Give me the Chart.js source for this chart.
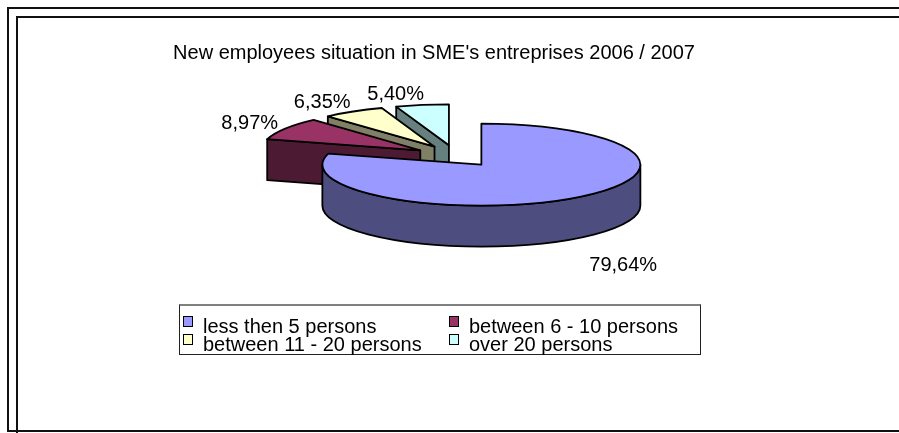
<!DOCTYPE html>
<html>
<head>
<meta charset="utf-8">
<script src="https://cdn.jsdelivr.net/npm/chart.js@4.4.1/dist/chart.umd.min.js"></script>
<style>
  body { margin: 0; background: #fff; }
  #wrap { position: relative; width: 899px; height: 433px; overflow: hidden; background: #fff;
          font-family: 'Liberation Sans', Arial, sans-serif; color: #000; }
  .frame { position: absolute; border-top: 2px solid #111; border-left: 2px solid #111; }
  #outer { left: 7px; top: 7px; width: 900px; height: 421px; border-bottom: 2px solid #111; }
  #inner { left: 16px; top: 16px; width: 900px; height: 430px; }
  #chart { position: absolute; left: 0; top: 0; }
  #title { position: absolute; left: 0; top: 40px; width: 868px; text-align: center;
           font-size: 20px; line-height: 24px; white-space: nowrap; }
  #legend { position: absolute; left: 179px; top: 304px; width: 522px; height: 51px;
            border: 1px solid #222; border-top: 2px solid #808080; box-sizing: border-box;
            padding: 11px 0 0 3px;
            display: grid; grid-template-columns: 266px auto; grid-auto-rows: 18px;
            font-size: 20px; line-height: 18px; }
  #legend .item { position: relative; padding-left: 20px; white-space: nowrap; }
  #legend .box { position: absolute; left: 0; top: -1px; width: 8px; height: 9px; border: 1px solid #000; }
</style>
</head>
<body>
<div id="wrap">
  <div class="frame" id="outer"></div>
  <div class="frame" id="inner"></div>
  <canvas id="chart" width="899" height="433"></canvas>
  <div id="title"></div>
  <div id="legend"></div>
</div>
<script>
// chart data
const chartTitle = "New employees situation in SME's entreprises 2006 / 2007";
const categories = ['less then 5 persons', 'between 6 - 10 persons', 'between 11 - 20 persons', 'over 20 persons'];
const shares     = [79.64, 8.97, 6.35, 5.40];
const colors     = ['#9999FF', '#993366', '#FFFFCC', '#CCFFFF'];

// look of the fake 3d pie
const TILT      = 41 / 159;   // ellipse height / width
const DEPTH     = 41;
const EXPLODE   = 42;
const LABEL_GAP = 13;
const FONT      = '20px "Liberation Sans", Arial, sans-serif';

const pct = v => v.toFixed(2).replace('.', ',') + '%';

function shade(hex, f) {
  const n = parseInt(hex.slice(1), 16);
  const r = Math.round(((n >> 16) & 255) * f);
  const g = Math.round(((n >> 8) & 255) * f);
  const b = Math.round((n & 255) * f);
  return `rgb(${r},${g},${b})`;
}

// draws the pie slices as extruded, exploded ellipse sectors from the arc elements
const pie3d = {
  id: 'pie3d',
  beforeDatasetsDraw(chart) {
    const ctx  = chart.ctx;
    const meta = chart.getDatasetMeta(0);
    const slices = meta.data.map((arc, i) => {
      const p   = arc.getProps(['x', 'y', 'startAngle', 'endAngle', 'outerRadius'], true);
      const mid = (p.startAngle + p.endAngle) / 2;
      return {
        i, mid, a0: p.startAngle, a1: p.endAngle,
        cx: p.x + Math.cos(mid) * EXPLODE,
        cy: p.y + Math.sin(mid) * EXPLODE * TILT,
        rx: p.outerRadius, ry: p.outerRadius * TILT
      };
    });

    ctx.save();
    ctx.lineWidth   = 1.8;
    ctx.strokeStyle = '#000';
    ctx.lineJoin    = 'round';

    // side walls, back to front
    [...slices].sort((a, b) => Math.sin(a.mid) - Math.sin(b.mid)).forEach(s => {
      ctx.fillStyle = shade(colors[s.i], 0.5);
      const face = a => {
        const ex = s.cx + s.rx * Math.cos(a), ey = s.cy + s.ry * Math.sin(a);
        ctx.beginPath();
        ctx.moveTo(s.cx, s.cy);
        ctx.lineTo(ex, ey);
        ctx.lineTo(ex, ey + DEPTH);
        ctx.lineTo(s.cx, s.cy + DEPTH);
        ctx.closePath();
        ctx.fill(); ctx.stroke();
      };
      if (Math.cos(s.a0) < -1e-9) face(s.a0);
      if (Math.cos(s.a1) >  1e-9) face(s.a1);
      const w0 = Math.max(s.a0, 0), w1 = Math.min(s.a1, Math.PI);
      if (w1 > w0) {
        ctx.beginPath();
        ctx.ellipse(s.cx, s.cy, s.rx, s.ry, 0, w0, w1);
        ctx.ellipse(s.cx, s.cy + DEPTH, s.rx, s.ry, 0, w1, w0, true);
        ctx.closePath();
        ctx.fill(); ctx.stroke();
      }
    });

    // top faces
    slices.forEach(s => {
      ctx.fillStyle = colors[s.i];
      ctx.beginPath();
      ctx.moveTo(s.cx, s.cy);
      ctx.ellipse(s.cx, s.cy, s.rx, s.ry, 0, s.a0, s.a1);
      ctx.closePath();
      ctx.fill(); ctx.stroke();
    });

    // value labels outside the rim
    ctx.fillStyle    = '#000';
    ctx.font         = FONT;
    ctx.textBaseline = 'middle';
    slices.forEach(s => {
      const c = Math.cos(s.mid), sn = Math.sin(s.mid);
      const x = s.cx + c * (s.rx + LABEL_GAP) + 4;
      let y   = s.cy + sn * (s.ry + LABEL_GAP) + 2;
      if (sn > 0) y += DEPTH + sn * 18;
      ctx.textAlign = c < 0 ? 'right' : 'left';
      ctx.fillText(pct(shares[s.i]), x, y);
    });
    ctx.restore();
    return false;
  }
};

new Chart(document.getElementById('chart'), {
  type: 'pie',
  data: {
    labels: categories,
    datasets: [{ data: shares, backgroundColor: colors, borderWidth: 0, radius: 159 }]
  },
  options: {
    responsive: false,
    animation: false,
    radius: 159,
    layout: { padding: { left: 13, right: 0, top: 0, bottom: 121 } },
    plugins: { legend: { display: false }, tooltip: { enabled: false }, title: { display: false } }
  },
  plugins: [pie3d]
});

document.getElementById('title').textContent = chartTitle;

const legend = document.getElementById('legend');
categories.forEach((name, i) => {
  const item = document.createElement('div');
  item.className = 'item';
  item.innerHTML = `<span class="box" style="background:${colors[i]}"></span>${name}`;
  legend.appendChild(item);
});
</script>
</body>
</html>
